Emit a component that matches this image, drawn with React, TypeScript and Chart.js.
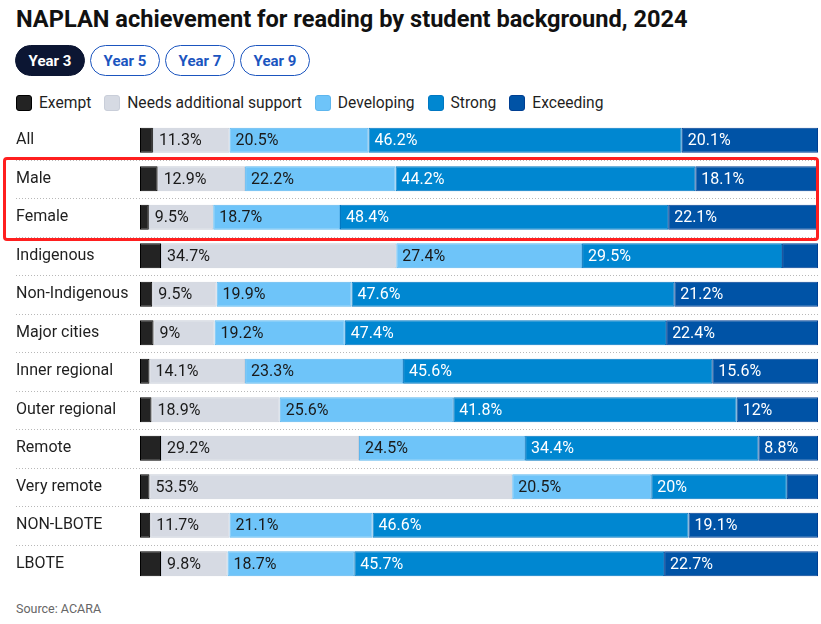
import React, { useEffect, useRef } from "react";
import { Chart, registerables } from "chart.js";

Chart.register(...registerables);

const categories = [
  "All",
  "Male",
  "Female",
  "Indigenous",
  "Non-Indigenous",
  "Major cities",
  "Inner regional",
  "Outer regional",
  "Remote",
  "Very remote",
  "NON-LBOTE",
  "LBOTE",
];

const seriesNames = ["Exempt", "Needs additional support", "Developing", "Strong", "Exceeding"];

const exempt = [1.9, 2.6, 1.3, 3.1, 1.8, 2.0, 1.4, 1.7, 3.1, 1.4, 1.5, 3.1];
const needsSupport = [11.3, 12.9, 9.5, 34.7, 9.5, 9, 14.1, 18.9, 29.2, 53.5, 11.7, 9.8];
const developing = [20.5, 22.2, 18.7, 27.4, 19.9, 19.2, 23.3, 25.6, 24.5, 20.5, 21.1, 18.7];
const strong = [46.2, 44.2, 48.4, 29.5, 47.6, 47.4, 45.6, 41.8, 34.4, 20, 46.6, 45.7];
const exceeding = [20.1, 18.1, 22.1, 5.3, 21.2, 22.4, 15.6, 12, 8.8, 4.6, 19.1, 22.7];

const yearTabs = ["Year 3", "Year 5", "Year 7", "Year 9"];

const fillColors = ["#232323", "#d6dae3", "#6ec4f9", "#0087d1", "#0053a6"];
const borderColors = ["#000000", "#c9ced9", "#5db6ee", "#0077c2", "#003f92"];
const labelColors = ["#ffffff", "#1a1a1a", "#1a1a1a", "#ffffff", "#ffffff"];

const FONT = "Roboto, 'Noto Sans', sans-serif";

const separatorPlugin = {
  id: "rowSeparators",
  beforeDatasetsDraw(chart: any) {
    const { ctx, chartArea, scales } = chart;
    const y = scales.y;
    ctx.save();
    ctx.strokeStyle = "#b8b8b8";
    ctx.lineWidth = 1;
    ctx.setLineDash([1, 2]);
    for (let i = 0; i < categories.length - 1; i++) {
      const py = Math.round((y.getPixelForValue(i) + y.getPixelForValue(i + 1)) / 2) + 0.5;
      ctx.beginPath();
      ctx.moveTo(16, py);
      ctx.lineTo(chartArea.right, py);
      ctx.stroke();
    }
    ctx.restore();
  },
};

const valueLabelPlugin = {
  id: "valueLabels",
  afterDatasetsDraw(chart: any) {
    const { ctx } = chart;
    ctx.save();
    ctx.font = `16px ${FONT}`;
    ctx.textBaseline = "middle";
    ctx.textAlign = "left";
    chart.data.datasets.forEach((ds: any, di: number) => {
      const meta = chart.getDatasetMeta(di);
      meta.data.forEach((el: any, i: number) => {
        const v = ds.data[i];
        if (v < 6) return;
        const start = Math.min(el.base, el.x);
        ctx.fillStyle = labelColors[di];
        ctx.fillText(`${v}%`, start + 6, el.y + 1);
      });
    });
    ctx.restore();
  },
};

export default function App() {
  const canvasRef = useRef<HTMLCanvasElement | null>(null);

  useEffect(() => {
    if (!canvasRef.current) return;
    const seriesValues = [exempt, needsSupport, developing, strong, exceeding];
    const chart = new Chart(canvasRef.current, {
      type: "bar",
      data: {
        labels: categories,
        datasets: seriesNames.map((name, i) => ({
          label: name,
          data: seriesValues[i],
          backgroundColor: fillColors[i],
          borderColor: borderColors[i],
          borderWidth: 1,
          borderSkipped: false,
          categoryPercentage: 1,
          barPercentage: 0.645,
        })),
      },
      options: {
        indexAxis: "y",
        animation: false,
        responsive: false,
        maintainAspectRatio: false,
        layout: { padding: { left: 16, right: 3, top: 10, bottom: 10 } },
        plugins: {
          legend: { display: false },
          tooltip: { enabled: false },
        },
        scales: {
          x: {
            stacked: true,
            min: 0,
            max: 100,
            display: false,
          },
          y: {
            stacked: true,
            grid: { display: false },
            border: { display: false },
            afterFit(scale: any) {
              scale.width = 124;
            },
            ticks: {
              crossAlign: "far",
              color: "#1f1f1f",
              font: { family: FONT, size: 16 },
              padding: 0,
            },
          },
        },
      },
      plugins: [separatorPlugin, valueLabelPlugin],
    } as any);
    return () => chart.destroy();
  }, []);

  return (
    <div
      style={{
        position: "absolute",
        left: 0,
        top: 0,
        width: 821,
        height: 624,
        fontFamily: FONT,
        background: "#ffffff",
        overflow: "hidden",
      }}
    >
      <div
        style={{
          position: "absolute",
          left: 16,
          top: 5,
          fontSize: 23.6,
          lineHeight: "28px",
          fontWeight: 700,
          color: "#111111",
          whiteSpace: "nowrap",
        }}
      >
        NAPLAN achievement for reading by student background, 2024
      </div>
      <div style={{ position: "absolute", left: 15, top: 45, display: "flex", gap: 5 }}>
        {yearTabs.map((t, i) => (
          <div
            key={t}
            style={{
              width: 70,
              height: 31,
              boxSizing: "border-box",
              borderRadius: 16,
              border: i === 0 ? "1.5px solid #0c1633" : "1.5px solid #1b55bf",
              background: i === 0 ? "#0c1633" : "#ffffff",
              color: i === 0 ? "#ffffff" : "#1b55bf",
              fontWeight: 700,
              fontSize: 15,
              display: "flex",
              alignItems: "center",
              justifyContent: "center",
            }}
          >
            {t}
          </div>
        ))}
      </div>
      <div
        style={{
          position: "absolute",
          left: 16,
          top: 94,
          display: "flex",
          alignItems: "center",
          gap: 13,
          height: 18,
        }}
      >
        {seriesNames.map((n, i) => (
          <div key={n} style={{ display: "flex", alignItems: "center", gap: 7 }}>
            <div
              style={{
                width: 16,
                height: 16,
                boxSizing: "border-box",
                borderRadius: 3,
                background: fillColors[i],
                border: `1px solid ${borderColors[i]}`,
              }}
            />
            <span style={{ fontSize: 15.6, color: "#1f1f1f", lineHeight: "18px" }}>{n}</span>
          </div>
        ))}
      </div>
      <canvas
        ref={canvasRef}
        width={821}
        height={482}
        style={{ position: "absolute", left: 0, top: 111, width: 821, height: 482 }}
      />
      <div
        style={{
          position: "absolute",
          left: 3,
          top: 157,
          width: 816,
          height: 84,
          boxSizing: "border-box",
          border: "3px solid #ff1f1f",
          borderRadius: 4,
          pointerEvents: "none",
        }}
      />
      <div
        style={{
          position: "absolute",
          left: 16,
          top: 601,
          fontSize: 12.5,
          lineHeight: "16px",
          color: "#666666",
        }}
      >
        Source: ACARA
      </div>
    </div>
  );
}
